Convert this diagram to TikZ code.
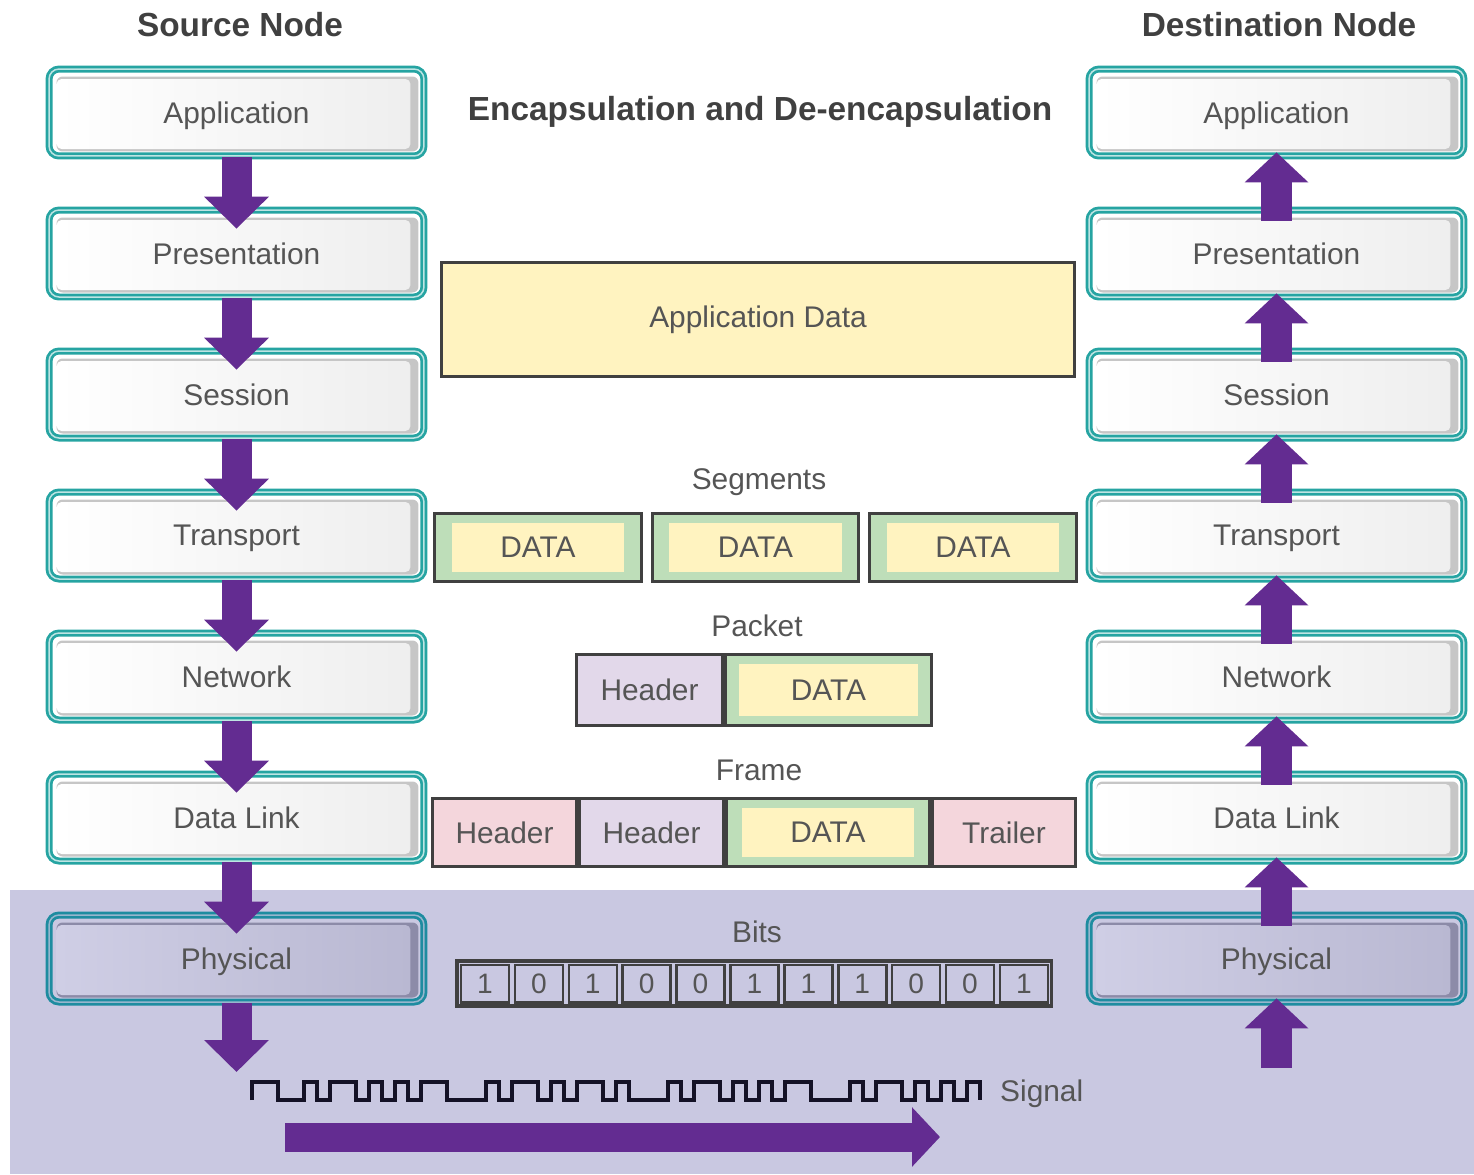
\documentclass[tikz,border=0pt]{standalone}
\usepackage{fontspec}
\setmainfont{Liberation Sans}
\usepackage{tikz}
\usetikzlibrary{arrows.meta}
\definecolor{tealc}{RGB}{38, 164, 162}
\definecolor{tealdk}{RGB}{30, 140, 160}
\definecolor{purp}{RGB}{99, 44, 145}
\definecolor{lav}{RGB}{201, 200, 225}
\definecolor{lavlt}{RGB}{207, 206, 229}
\definecolor{lavmd}{RGB}{185, 184, 210}
\definecolor{lavdk}{RGB}{140, 139, 168}
\definecolor{edge}{RGB}{64, 64, 64}
\definecolor{grn}{RGB}{190, 222, 185}
\definecolor{ylw}{RGB}{255, 243, 192}
\definecolor{pnk}{RGB}{244, 214, 220}
\definecolor{lil}{RGB}{226, 216, 234}
\definecolor{txt}{RGB}{85, 85, 85}
\definecolor{wavec}{RGB}{20, 18, 38}

\newcommand\lbl{\fontsize{17}{20}\selectfont}
\newcommand\hdr{\fontsize{19}{22}\selectfont\bfseries}
\newcommand\laypic[3]{%
  \fill[#1, rounded corners=0.12cm] ([shift={(0.15cm,0.09cm)}]path picture bounding box.south west) rectangle ([shift={(-0.11cm,-0.15cm)}]path picture bounding box.north east);
  \shade[left color=#2, right color=#3, rounded corners=0.1cm] ([shift={(0.15cm,0.14cm)}]path picture bounding box.south west) rectangle ([shift={(-0.27cm,-0.2cm)}]path picture bounding box.north east);}

\begin{document}
\begin{tikzpicture}[x=0.02cm, y=-0.02cm,
  laybase/.style={rounded corners=0.2cm, line width=0.055cm, double distance=0.03cm, minimum width=7.5cm, minimum height=1.74cm, inner sep=0pt, text depth=0pt, font=\lbl, text=txt},
  layer/.style={laybase, draw=tealc, double=tealc!30!white, path picture={\laypic{gray!45}{white}{gray!13}}},
  phys/.style={laybase, draw=tealdk, double=tealdk!30!lav, path picture={\laypic{lavdk}{lavlt}{lavmd}}},
  downar/.style={draw=purp, line width=0.6cm, -{Triangle[width=1.26cm, length=0.64cm]}, shorten >=-0.4cm},
  upar/.style={draw=purp, line width=0.62cm, -{Triangle[width=1.24cm, length=0.6cm]}, shorten <=-0.24cm, shorten >=-0.1cm},
  pdu/.style={draw=edge, line width=0.06cm, inner sep=0pt, font=\lbl, text=txt},
  datablk/.style={pdu, fill=grn, path picture={\fill[ylw] ([shift={(#1,0.2cm)}]path picture bounding box.south west) rectangle ([shift={(-#1,-0.18cm)}]path picture bounding box.north east);}},
  datablk/.default=0.34cm,
  bitcell/.style={draw=edge, line width=0.05cm, minimum width=0.96cm, minimum height=0.75cm, inner sep=0pt, font=\fontsize{16}{18}\selectfont, text=txt},
  tag/.style={font=\lbl, text=txt},
  signal/.style={draw=wavec, line width=0.09cm, line join=miter},
  bigar/.style={draw=purp, line width=0.58cm, -{Triangle[width=1.16cm, length=0.56cm]}}]

\useasboundingbox (0,0) rectangle (1474,1174);

% physical band
\fill[lav] (10,890) rectangle (1474,1174);

% titles
\node[font=\hdr, text=black!75] (srctitle) at (240,25) {Source Node};
\node[font=\hdr, text=black!75] (dsttitle) at (1279,25) {Destination Node};
\node[font=\hdr, text=black!75] (maintitle) at (760,112) {Encapsulation and De-encapsulation};

% source stack
\node[layer] (sapp) at (236.5,112.5) {Application};
\node[layer] (spres) at (236.5,253.5) {Presentation};
\node[layer] (ssess) at (236.5,394.5) {Session};
\node[layer] (strans) at (236.5,535.5) {Transport};
\node[layer] (snet) at (236.5,676.5) {Network};
\node[layer] (sdl) at (236.5,817.5) {Data Link};
\node[phys] (sphy) at (236.5,958.5) {Physical};
\coordinate (sout) at (236.5,1072);

% destination stack
\node[layer] (dapp) at (1276.5,112.5) {Application};
\node[layer] (dpres) at (1276.5,253.5) {Presentation};
\node[layer] (dsess) at (1276.5,394.5) {Session};
\node[layer] (dtrans) at (1276.5,535.5) {Transport};
\node[layer] (dnet) at (1276.5,676.5) {Network};
\node[layer] (ddl) at (1276.5,817.5) {Data Link};
\node[phys] (dphy) at (1276.5,958.5) {Physical};
\coordinate (din) at (1276.5,1068);

% data units
\node[pdu, fill=ylw, minimum width=12.66cm, minimum height=2.28cm] (appdata) at (758,319.5) {Application Data};

\node[tag] (segtag) at (759,482) {Segments};
\node[datablk, minimum width=4.14cm, minimum height=1.36cm] (seg1) at (538,547.5) {DATA};
\node[datablk, minimum width=4.14cm, minimum height=1.36cm] (seg2) at (755.5,547.5) {DATA};
\node[datablk, minimum width=4.14cm, minimum height=1.36cm] (seg3) at (973,547.5) {DATA};

\node[tag] (pkttag) at (757,626) {Packet};
\node[pdu, fill=lil, minimum width=2.92cm, minimum height=1.42cm] (pkthdr) at (649.5,690) {Header};
\node[datablk=0.26cm, minimum width=4.12cm, minimum height=1.42cm] (pktdata) at (828.5,690) {DATA};

\node[tag] (frmtag) at (759,770) {Frame};
\node[pdu, fill=pnk, minimum width=2.88cm, minimum height=1.36cm] (frmhdr2) at (504.5,832.5) {Header};
\node[pdu, fill=lil, minimum width=2.88cm, minimum height=1.36cm] (frmhdr3) at (651.5,832.5) {Header};
\node[datablk=0.3cm, minimum width=4.06cm, minimum height=1.36cm] (frmdata) at (828,832.5) {DATA};
\node[pdu, fill=pnk, minimum width=2.86cm, minimum height=1.36cm] (frmtrl) at (1004,832.5) {Trailer};

\node[tag] (bittag) at (757,932) {Bits};
\foreach \b [count=\i] in {1,0,1,0,0,1,1,1,0,0,1}
  \node[bitcell] (bit\i) at ({458+53.9*(\i-0.5)},983.5) {\b};
\draw[draw=edge, line width=0.07cm] ([shift={(-0.05cm,0.05cm)}]bit1.north west) rectangle ([shift={(0.05cm,-0.05cm)}]bit11.south east);

% signal
\draw[signal] (252,1100) -- ++(0,-18)
  \foreach \n/\d in {2/18,2/-18,1/18,1/-18,2/18,1/-18,1/18,1/-18,1/18,1/-18,2/18,3/-18,1/18,1/-18,2/18,1/-18,1/18,1/-18,2/18,1/-18,1/18,3/-18,1/18,1/-18,2/18,1/-18,1/18,1/-18,1/18,1/-18,2/18,3/-18,1/18,1/-18,2/18,1/-18,1/18,1/-18,1/18,1/-18,1/18}
  { -- ++({13*\n},0) -- ++(0,\d) };
\node[tag, anchor=west] (sigtag) at (994,1094) {Signal};
\coordinate (sigL) at (285,1137);
\coordinate (sigR) at (940,1137);
\draw[bigar] (sigL) -- (sigR);

% encapsulation arrows
\draw[downar] (sapp.south) -- (spres.north);
\draw[downar] (spres.south) -- (ssess.north);
\draw[downar] (ssess.south) -- (strans.north);
\draw[downar] (strans.south) -- (snet.north);
\draw[downar] (snet.south) -- (sdl.north);
\draw[downar] (sdl.south) -- (sphy.north);
\draw[downar, shorten >=0pt] (sphy.south) -- (sout);

% de-encapsulation arrows
\draw[upar, shorten <=0pt] (din) -- (dphy.south);
\draw[upar] (dphy.north) -- (ddl.south);
\draw[upar] (ddl.north) -- (dnet.south);
\draw[upar] (dnet.north) -- (dtrans.south);
\draw[upar] (dtrans.north) -- (dsess.south);
\draw[upar] (dsess.north) -- (dpres.south);
\draw[upar] (dpres.north) -- (dapp.south);

\end{tikzpicture}
\end{document}
